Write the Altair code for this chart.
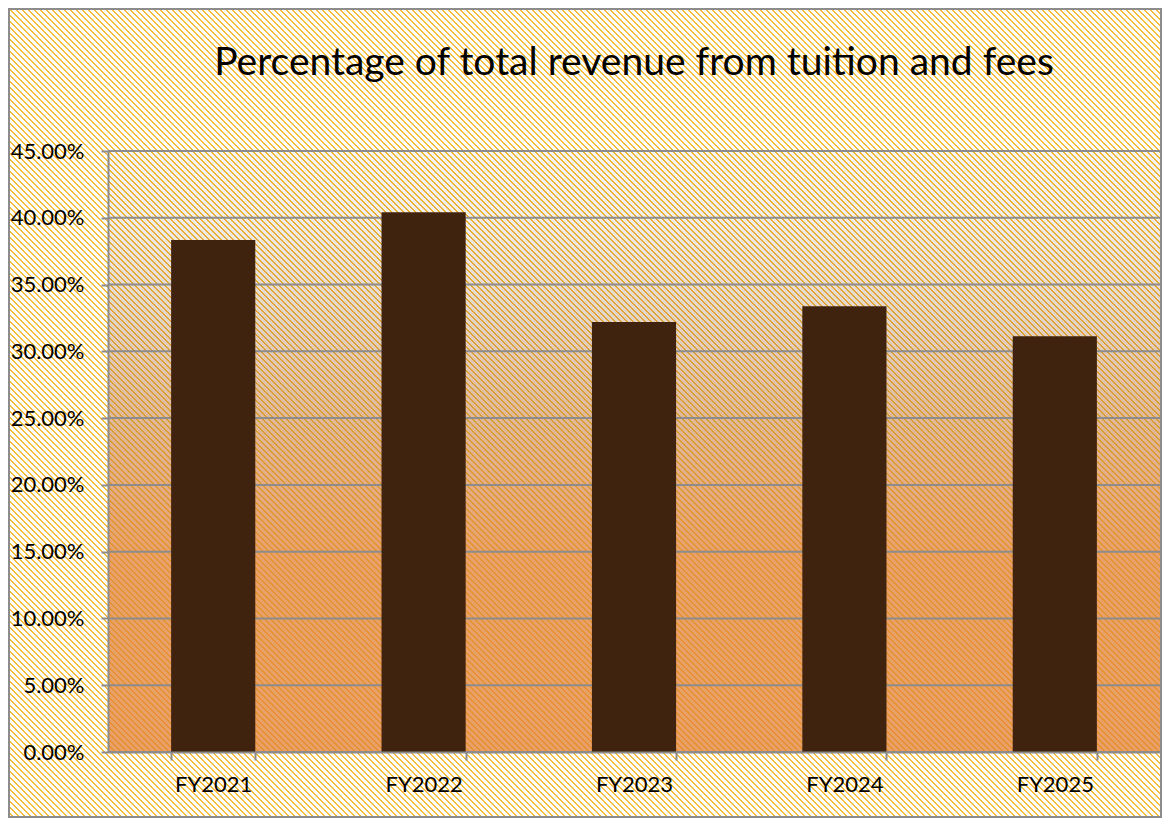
import base64
import altair as alt
import pandas as pd

# ---- data ----
years = ["FY2021", "FY2022", "FY2023", "FY2024", "FY2025"]
shares = [0.3833, 0.4042, 0.3219, 0.3338, 0.3113]
y_ticks = [0.0, 0.05, 0.10, 0.15, 0.20, 0.25, 0.30, 0.35, 0.40, 0.45]
title_text = "Percentage of total revenue from tuition and fees"

df = pd.DataFrame({"year": years, "share": shares})
grid_df = pd.DataFrame({"tick": y_ticks})

# ---- layout ----
W, H = 1052, 601
PL, PT, PR, PB = 100, 143, 2, 66
TW, TH = W + PL + PR, H + PT + PB
GRAY = "#8c8c8c"
FONT = "Lato"


def hatch_url(w, h, stripe_stops, bg=None, period=6):
    """Diagonal ("\\") hatch texture as an SVG image; stripes coloured by a vertical gradient."""
    cells = "".join(
        f'<rect x="{x}" y="{y}" width="1" height="1"/>'
        for y in range(period) for x in range(period)
        if (x - y) % period in (0, 1)
    )
    stops = "".join(f'<stop offset="{o}" stop-color="{c}"/>' for o, c in stripe_stops)
    back = f'<rect width="{w}" height="{h}" fill="{bg}"/>' if bg else ""
    svg = (
        f'<svg xmlns="http://www.w3.org/2000/svg" width="{w}" height="{h}" '
        f'viewBox="0 0 {w} {h}" shape-rendering="crispEdges">'
        f'<defs>'
        f'<pattern id="p" width="{period}" height="{period}" patternUnits="userSpaceOnUse">'
        f'<g fill="#ffffff">{cells}</g></pattern>'
        f'<mask id="m" maskUnits="userSpaceOnUse" x="0" y="0" width="{w}" height="{h}">'
        f'<rect width="{w}" height="{h}" fill="url(#p)"/></mask>'
        f'<linearGradient id="g" x1="0" y1="0" x2="0" y2="1">{stops}</linearGradient>'
        f'</defs>'
        f'{back}<rect width="{w}" height="{h}" fill="url(#g)" mask="url(#m)"/></svg>'
    )
    return "data:image/svg+xml;base64," + base64.b64encode(svg.encode()).decode()


one = alt.Data(values=[{}])

# whole-chart hatched background
bg = alt.Chart(one).mark_image(
    url=hatch_url(TW, TH, [(0, "#f4bd3c"), (1, "#f4bd3c")], bg="#ffffff"),
    aspect=False, align="left", baseline="top", width=TW, height=TH,
).encode(x=alt.value(-PL), y=alt.value(-PT))

# outer border
border = alt.Chart(one).mark_rect(fill="transparent", stroke=GRAY, strokeWidth=2).encode(
    x=alt.value(-PL + 1), x2=alt.value(W + PR - 1),
    y=alt.value(-PT + 1), y2=alt.value(H + PB - 1),
)

# plot-area vertical gradient
plot_grad = alt.Chart(one).mark_rect(
    fill={
        "gradient": "linear", "x1": 0, "y1": 0, "x2": 0, "y2": 1,
        "stops": [
            {"offset": 0.0, "color": "#f6f5f4"},
            {"offset": 0.11, "color": "#f1ede9"},
            {"offset": 0.29, "color": "#e3d3c7"},
            {"offset": 0.44, "color": "#e0b99e"},
            {"offset": 0.56, "color": "#e4ac86"},
            {"offset": 0.67, "color": "#e8a16c"},
            {"offset": 1.0, "color": "#e9a068"},
        ],
    }
).encode(x=alt.value(0), x2=alt.value(W), y=alt.value(0), y2=alt.value(H))

# plot-area hatch overlay
plot_hatch = alt.Chart(one).mark_image(
    url=hatch_url(W, H, [(0, "#f0b830"), (0.3, "#dca236"), (0.45, "#d89e30"),
                         (0.67, "#e49430"), (1, "#e89030")]),
    aspect=False, align="left", baseline="top", width=W, height=H,
).encode(x=alt.value(0), y=alt.value(0))

yscale = alt.Scale(domain=[0, 0.45], nice=False, zero=True)
y_axis = alt.Axis(
    title=None, values=y_ticks, format=".2%", grid=False,
    tickSize=7, tickWidth=2, tickColor=GRAY, domainColor=GRAY, domainWidth=2,
    labelFont=FONT, labelFontSize=22, labelColor="black", labelPadding=17,
    zindex=1,
)

grid = alt.Chart(grid_df).mark_rule(color=GRAY, strokeWidth=2).encode(
    y=alt.Y("tick:Q", scale=yscale, axis=y_axis)
)

bars = alt.Chart(df).mark_bar(color="#40230e").encode(
    x=alt.X(
        "year:N", sort=years,
        scale=alt.Scale(paddingInner=0.6, paddingOuter=0.3),
        axis=alt.Axis(
            title=None, labelAngle=0, tickBand="extent", tickSize=8, tickWidth=2,
            tickColor=GRAY, domainColor=GRAY, domainWidth=2,
            labelFont=FONT, labelFontSize=22, labelColor="black", labelPadding=14,
            zindex=1,
        ),
    ),
    y=alt.Y("share:Q", scale=yscale, axis=y_axis),
)

title = alt.Chart(one).mark_text(
    text=title_text, font=FONT, fontSize=39, color="black",
    align="center", baseline="alphabetic",
).encode(x=alt.value(W / 2), y=alt.value(-76))

chart = alt.layer(bg, border, plot_grad, plot_hatch, grid, bars, title).properties(
    width=W, height=H,
    padding={"left": PL, "top": PT, "right": PR, "bottom": PB},
    autosize=alt.AutoSizeParams(type="none"),
    background="white",
).configure_view(stroke=None)

chart.save("out.html", embed_options={"renderer": "svg", "actions": False})
